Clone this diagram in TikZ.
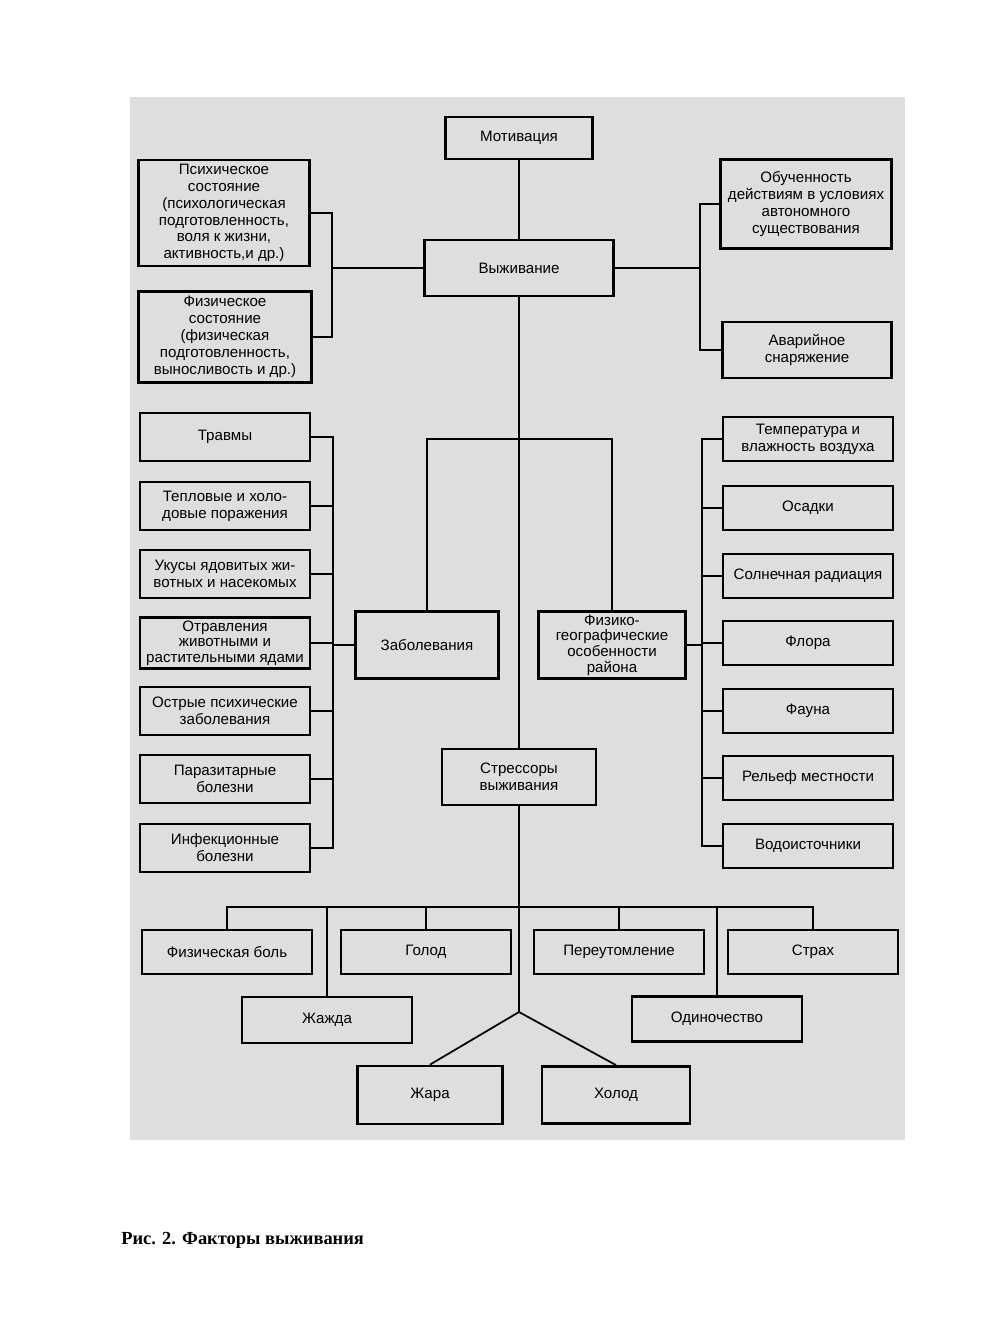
\documentclass[tikz,border=0pt]{standalone}
\usepackage{fontspec}
\setmainfont{Liberation Sans}
\newfontfamily\capfont{Liberation Serif}
\usepackage{xcolor}
\usetikzlibrary{positioning}
\definecolor{scan}{HTML}{DEDEDE}

\begin{document}
\begin{tikzpicture}[
  x=0.02cm, y=-0.02cm,
  factor/.style={draw, line width=1.6pt, align=center, inner sep=1pt,
                 minimum width=3.4cm, minimum height=0.88cm,
                 font=\fontsize{8.6}{9.6}\selectfont},
  tight/.style={font=\fontsize{8.6}{8.9}\selectfont, inner sep=0.5pt},
  link/.style={line width=1pt}
]
  \useasboundingbox (0,0) rectangle (1000,1333);
  \fill[scan] (130,97) rectangle (905,1140);

  % upper part
  \node[factor, minimum width=2.94cm, minimum height=0.84cm] (mot) at (519,138) {Мотивация};
  \node[factor, minimum width=3.78cm, minimum height=1.12cm] (vyzh) at (519,268) {Выживание};
  \node[factor, minimum width=3.42cm, minimum height=2.12cm] (psy) at (224,213)
    {Психическое\\состояние\\(психологическая\\подготовленность,\\воля к жизни,\\активность,и др.)};
  \node[factor, minimum width=3.46cm, minimum height=1.82cm] (fiz) at (225,337)
    {Физическое\\состояние\\(физическая\\подготовленность,\\выносливость и др.)};
  \node[factor, minimum width=3.42cm, minimum height=1.78cm] (obuch) at (806,204)
    {Обученность\\действиям в условиях\\автономного\\существования};
  \node[factor, minimum width=3.38cm, minimum height=1.12cm] (avar) at (807,350) {Аварийное\\снаряжение};

  % diseases
  \node[factor, minimum height=0.96cm] (trav) at (225,437) {Травмы};
  \node[factor, minimum height=0.96cm] (tepl) at (225,506) {Тепловые и холо-\\довые поражения};
  \node[factor, minimum height=0.96cm] (ukus) at (225,574) {Укусы ядовитых жи-\\вотных и насекомых};
  \node[factor, tight, minimum height=1.02cm] (otr) at (225,643) {Отравления\\животными и\\растительными ядами};
  \node[factor, minimum height=0.96cm] (ostr) at (225,711) {Острые психические\\заболевания};
  \node[factor, minimum height=0.96cm] (paraz) at (225,779) {Паразитарные\\болезни};
  \node[factor, minimum height=0.96cm] (infek) at (225,848) {Инфекционные\\болезни};
  \node[factor, minimum width=2.86cm, minimum height=1.34cm] (zab) at (427,645) {Заболевания};

  % region
  \node[factor, tight, minimum width=2.94cm, minimum height=1.34cm] (fizgeo) at (612,645)
    {Физико-\\географические\\особенности\\района};
  \node[factor] (temp) at (808,439) {Температура и\\влажность воздуха};
  \node[factor] (osad) at (808,508) {Осадки};
  \node[factor] (soln) at (808,576) {Солнечная радиация};
  \node[factor] (flora) at (808,643) {Флора};
  \node[factor] (fauna) at (808,711) {Фауна};
  \node[factor] (relef) at (808,778) {Рельеф местности};
  \node[factor] (vodo) at (808,846) {Водоисточники};

  % stressors
  \node[factor, minimum width=3.08cm, minimum height=1.12cm] (stress) at (519,777) {Стрессоры\\выживания};
  \node[factor] (bol) at (227,952) {Физическая боль};
  \node[factor] (golod) at (426,952) {Голод};
  \node[factor] (pereut) at (619,952) {Переутомление};
  \node[factor] (strah) at (813,952) {Страх};
  \node[factor, minimum height=0.92cm] (zhazhda) at (327,1020) {Жажда};
  \node[factor, minimum height=0.9cm] (odin) at (717,1019) {Одиночество};
  \node[factor, minimum width=2.9cm, minimum height=1.16cm] (zhara) at (430,1095) {Жара};
  \node[factor, minimum width=2.96cm, minimum height=1.14cm] (holod) at (616,1095) {Холод};

  \node[anchor=west, inner sep=0, font=\capfont\bfseries\fontsize{10.5}{12}\selectfont] (cap) at (121,1240)
    {Рис. 2. Факторы выживания};

  \coordinate (lpsy) at (332,268);
  \coordinate (robu) at (700,268);
  \coordinate (split) at (519,439);
  \coordinate (lzab) at (333,645);
  \coordinate (rgeo) at (702,645);
  \coordinate (bar) at (519,907);
  \coordinate (fork) at (519,1012);

  \draw[link] (mot) -- (vyzh);
  \draw[link] (vyzh) -- (stress);
  \draw[link] (stress) -- (fork);
  \draw[link] (fork) -- (zhara.north);
  \draw[link] (fork) -- (holod.north);
  \draw[link] (vyzh.west) -- (lpsy);
  \draw[link] (psy.east) -| (lpsy) |- (fiz.east);
  \draw[link] (vyzh.east) -- (robu);
  \draw[link] (obuch.west) -| (robu) |- (avar.west);
  \draw[link] (zab.north) |- (split) -| (fizgeo.north);
  \draw[link] (zab.west) -- (lzab);
  \foreach \n in {trav,tepl,ukus,otr,ostr,paraz,infek}
    \draw[link] (\n.east) -| (lzab);
  \draw[link] (fizgeo.east) -- (rgeo);
  \foreach \n in {temp,osad,soln,flora,fauna,relef,vodo}
    \draw[link] (\n.west) -| (rgeo);
  \foreach \n in {bol,golod,pereut,strah,zhazhda,odin}
    \draw[link] (\n.north) |- (bar);
\end{tikzpicture}
\end{document}
